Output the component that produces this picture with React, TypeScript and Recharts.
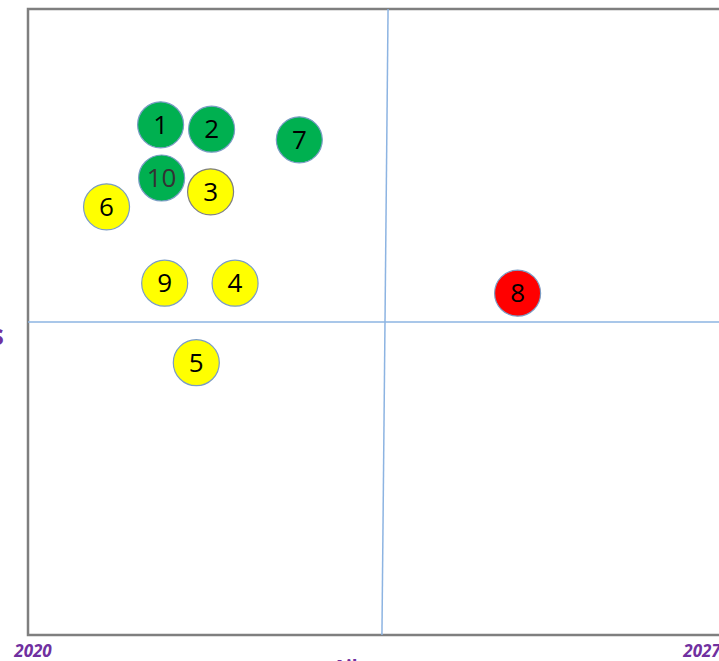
import { ScatterChart, Scatter, XAxis, YAxis, ReferenceLine, ReferenceArea } from 'recharts';

// Projects placed on time (x) vs. importance (y)
const ids = ['1', '2', '10', '3', '4', '5', '6', '7', '8', '9'];
const years = [2021.3, 2021.8, 2021.31, 2021.79, 2022.03, 2021.65, 2020.77, 2022.66, 2024.8, 2021.34];
const scores = [8.15, 8.08, 7.3, 7.08, 5.62, 4.35, 6.84, 7.91, 5.46, 5.62];
const statuses = ['green', 'green', 'green', 'yellow', 'yellow', 'yellow', 'yellow', 'green', 'red', 'yellow'];
const yearTicks = [2020, 2027];

const FILLS: Record<string, string> = { green: '#00B050', yellow: '#FFFF00', red: '#FF0000' };
const PURPLE = '#7030A0';

const data = ids.map((id, i) => ({ id, x: years[i], y: scores[i], status: statuses[i] }));

const Bubble = (props: any) => {
  const { cx, cy, payload } = props;
  return (
    <g>
      <circle
        cx={cx}
        cy={cy}
        r={23}
        fill={FILLS[payload.status]}
        stroke={payload.id === '3' ? '#7f7f7f' : '#7a9cc4'}
        strokeWidth={1.2}
      />
      <text
        x={cx}
        y={cy + 9}
        textAnchor="middle"
        fontSize={26}
        fontFamily="'Open Sans', sans-serif"
        fill={payload.id === '10' ? '#333' : '#000'}
      >
        {payload.id}
      </text>
    </g>
  );
};

const YearTick = (props: any) => {
  const { x, y, payload } = props;
  const last = payload.value === 2027;
  return (
    <text
      x={last ? x - 40 : x + 5}
      y={y + 14}
      textAnchor="middle"
      fontSize={17}
      fontWeight="bold"
      fontStyle="italic"
      fontFamily="'Open Sans', sans-serif"
      fill={PURPLE}
    >
      {payload.value}
    </text>
  );
};

const AxisTitle = (props: any) => {
  const { viewBox } = props;
  return (
    <text
      x={viewBox.x + viewBox.width / 2 - 31}
      y={viewBox.y + 39}
      textAnchor="middle"
      fontSize={19}
      fontWeight="bold"
      fontFamily="'Open Sans', sans-serif"
      fill={PURPLE}
    >
      Aika
    </text>
  );
};

// vertical axis title, mostly outside the visible crop
const SideTitle = (props: any) => {
  const { viewBox } = props;
  return (
    <text
      x={viewBox.x - 24}
      y={viewBox.y + 23}
      textAnchor="end"
      fontSize={28}
      fontWeight="bold"
      fontFamily="'Open Sans', sans-serif"
      fill={PURPLE}
    >
      Merkitys
    </text>
  );
};

export default function App() {
  return (
    <div style={{ position: 'fixed', left: 0, top: 0, width: 719, height: 661, overflow: 'hidden', background: '#fff' }}>
      <div style={{ position: 'absolute', left: -60, top: 0 }}>
        <ScatterChart width={860} height={700} margin={{ top: 9, right: 58, bottom: 0, left: 88 }}>
          <XAxis
            type="number"
            dataKey="x"
            domain={[2020, 2027]}
            ticks={yearTicks}
            allowDataOverflow
            axisLine={false}
            tickLine={false}
            height={65}
            tick={<YearTick />}
            label={{ content: <AxisTitle /> }}
          />
          <YAxis
            type="number"
            dataKey="y"
            domain={[0, 10]}
            width={0}
            axisLine={false}
            tickLine={false}
            tick={false}
          />
          <ReferenceArea x1={2020} x2={2027} y1={0} y2={10} fill="none" stroke="#7f7f7f" strokeWidth={2.5} />
          <ReferenceLine
            segment={[
              { x: 2023.53, y: 10 },
              { x: 2023.47, y: 0 },
            ]}
            stroke="#8db4e2"
            strokeWidth={1.5}
          />
          <ReferenceLine y={5} stroke="#8db4e2" strokeWidth={1.5} label={{ content: <SideTitle /> }} />
          <Scatter data={data} shape={<Bubble />} isAnimationActive={false} />
        </ScatterChart>
      </div>
    </div>
  );
}
